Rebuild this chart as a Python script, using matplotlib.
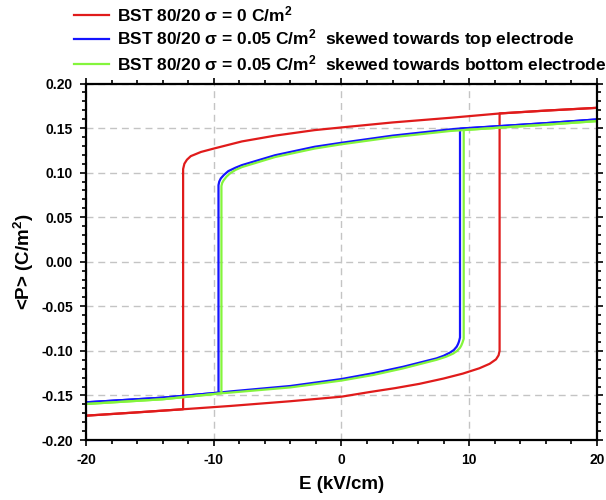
import matplotlib.pyplot as plt
from matplotlib.ticker import MultipleLocator
from matplotlib.lines import Line2D

plt.rcParams["font.family"] = ["Liberation Sans", "DejaVu Sans"]
plt.rcParams["font.weight"] = "bold"
plt.rcParams["mathtext.fontset"] = "custom"
plt.rcParams["mathtext.rm"] = "Liberation Sans:bold"
plt.rcParams["mathtext.default"] = "rm"
plt.rcParams["axes.unicode_minus"] = False

# red loop, sigma = 0
red_down_E = [20, 16, 12.4, 8.5, 4, 0, -2.1, -5.2, -7.8, -10, -11.0, -11.8, -12.1, -12.3, -12.4, -12.4, -16, -20]
red_down_P = [0.1727, 0.1696, 0.1664, 0.1615, 0.1563, 0.1507, 0.1477, 0.1415, 0.1350, 0.127, 0.1232, 0.1185, 0.1145, 0.110, 0.104, -0.1655, -0.169, -0.1727]
red_up_E = [-20, -16, -12.4, -8.7, -4, 0, 2.2, 4.2, 6.1, 8.0, 9.5, 10.8, 11.6, 12.1, 12.3, 12.38, 12.38, 16, 20]
red_up_P = [-0.1727, -0.169, -0.1655, -0.1618, -0.1565, -0.1514, -0.1462, -0.1418, -0.137, -0.131, -0.1255, -0.1195, -0.1145, -0.1095, -0.105, -0.100, 0.1664, 0.1696, 0.1727]

# blue loop, skewed towards top electrode
blue_down_E = [20, 16, 12.4, 9.4, 8.5, 4, 0, -2.1, -5.2, -7.8, -8.3, -8.86, -9.2, -9.45, -9.57, -9.63, -9.63, -14, -20]
blue_down_P = [0.1597, 0.1555, 0.1522, 0.1496, 0.1485, 0.1415, 0.1335, 0.129, 0.1195, 0.1084, 0.1055, 0.1017, 0.0975, 0.0935, 0.090, 0.086, -0.1469, -0.1525, -0.1577]
blue_up_E = [-20, -14, -9.63, -8.7, -4, 0, 2.5, 4.84, 7.45, 8.0, 8.49, 8.8, 9.02, 9.12, 9.2, 9.28, 9.28, 12.4, 16, 20]
blue_up_P = [-0.1577, -0.1525, -0.1469, -0.1455, -0.1394, -0.1316, -0.125, -0.1178, -0.1084, -0.1055, -0.102, -0.099, -0.0953, -0.0925, -0.0895, -0.085, 0.1492, 0.1522, 0.1555, 0.1597]

# green loop, skewed towards bottom electrode
green_down_E = [20, 16, 12.4, 9.65, 8.5, 4, 0, -2.1, -5.2, -7.8, -8.3, -8.7, -9.0, -9.22, -9.34, -9.4, -9.4, -14, -20]
green_down_P = [0.1578, 0.1538, 0.1505, 0.1478, 0.1467, 0.1397, 0.1318, 0.127, 0.1175, 0.1062, 0.103, 0.0995, 0.0955, 0.0915, 0.0885, 0.085, -0.1476, -0.1543, -0.1596]
green_up_E = [-20, -14, -9.4, -8.7, -4, 0, 2.5, 4.84, 7.45, 8.2, 8.75, 9.05, 9.28, 9.38, 9.48, 9.57, 9.57, 12.4, 16, 20]
green_up_P = [-0.1596, -0.1543, -0.1476, -0.1468, -0.141, -0.1333, -0.127, -0.1196, -0.110, -0.1065, -0.103, -0.100, -0.0965, -0.094, -0.0905, -0.0865, 0.1478, 0.1505, 0.1538, 0.1578]

labels = [
    "BST 80/20 σ = 0 C/m$^2$",
    "BST 80/20 σ = 0.05 C/m$^2$  skewed towards top electrode",
    "BST 80/20 σ = 0.05 C/m$^2$  skewed towards bottom electrode",
]
colors = ["#e01b1b", "#1414ff", "#84f53c"]

fig = plt.figure(figsize=(6.06, 5.0), dpi=100)
ax = fig.add_axes([0.142, 0.12, 0.843, 0.713])

loops = [
    (red_down_E, red_down_P, red_up_E, red_up_P),
    (blue_down_E, blue_down_P, blue_up_E, blue_up_P),
    (green_down_E, green_down_P, green_up_E, green_up_P),
]
for (dE, dP, uE, uP), c in zip(loops, colors):
    ax.plot(dE, dP, color=c, lw=1.6, solid_joinstyle="round")
    ax.plot(uE, uP, color=c, lw=1.6, solid_joinstyle="round")

ax.set_xlim(-20, 20)
ax.set_ylim(-0.20, 0.20)
ax.xaxis.set_major_locator(MultipleLocator(10))
ax.xaxis.set_minor_locator(MultipleLocator(2))
ax.yaxis.set_major_locator(MultipleLocator(0.05))
ax.yaxis.set_minor_locator(MultipleLocator(0.01))
ax.yaxis.set_major_formatter(plt.FormatStrFormatter("%.2f"))

ax.grid(True, which="major", color="#c4c4c4", lw=1.0, linestyle=(0, (5, 3.5)))
ax.set_axisbelow(True)

for s in ax.spines.values():
    s.set_linewidth(1.6)
ax.tick_params(which="both", direction="out", top=True, right=True, width=1.2, labelsize=10)
ax.tick_params(which="major", length=4.5, pad=5)
ax.tick_params(which="minor", length=3)

ax.set_xlabel("E (kV/cm)", fontsize=13.5, fontweight="bold", labelpad=6)
ax.set_ylabel("<P> (C/m$^2$)", fontsize=13.5, fontweight="bold", labelpad=4)

handles = [Line2D([], [], color=c, lw=1.6) for c in colors]
fig.legend(handles, labels, loc="upper left", bbox_to_anchor=(0.105, 1.012),
           frameon=False, fontsize=12.5, handlelength=2.0, handletextpad=0.45,
           labelspacing=0.18, borderaxespad=0.2)

fig.savefig("out.png", dpi=100)
